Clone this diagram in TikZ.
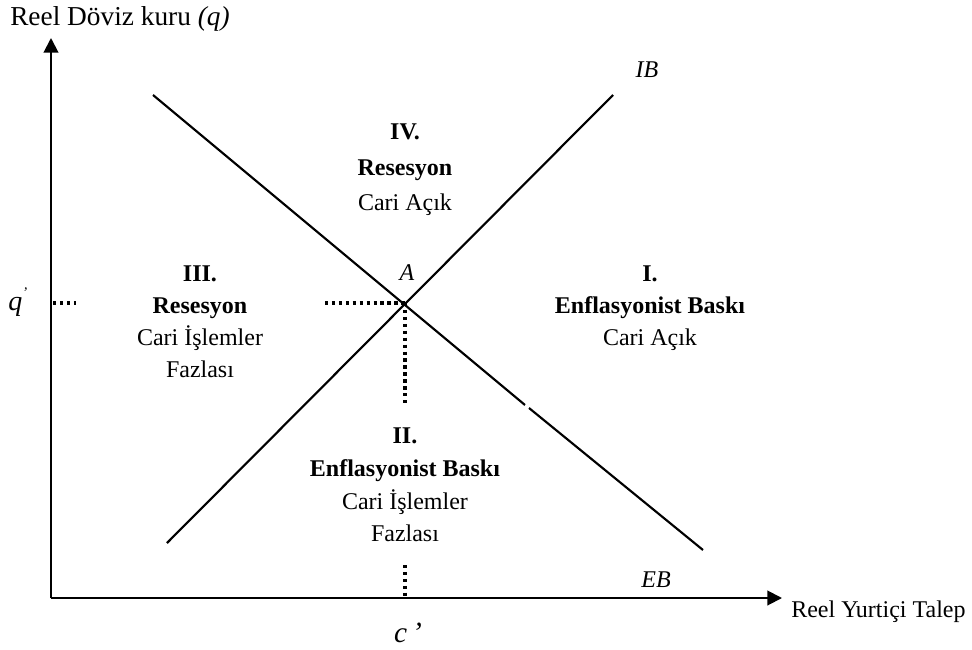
\documentclass[tikz,border=0pt]{standalone}
\usepackage{fontspec}
\setmainfont{Liberation Serif}
\usetikzlibrary{arrows.meta}
\begin{document}
\begin{tikzpicture}[x=0.75pt,y=-0.75pt,
  axis/.style={line width=1.5pt,-{Triangle[length=11pt,width=11pt]}},
  curve/.style={line width=1.6pt},
  dotline/.style={line width=2.3pt,dash pattern=on 2.5pt off 2.7pt},
  lbl/.style={font=\fontsize{18}{24}\selectfont, inner sep=0pt},
  block/.style={lbl,align=center,anchor=north}]
\useasboundingbox (0,0) rectangle (972,650);
% axes
\coordinate (O) at (51,598);
\coordinate (ytop) at (51,38);
\coordinate (xend) at (782,598);
\draw[axis] (O) -- (ytop);
\draw[axis] (O) -- (xend);
% curves
\coordinate (EBs) at (153,95);
\coordinate (EBg1) at (525,405);
\coordinate (EBg2) at (529,408);
\coordinate (EBe) at (703,550);
\coordinate (IBs) at (167,543);
\coordinate (IBe) at (613,95);
\draw[curve] (EBs) -- (EBg1);
\draw[curve] (EBg2) -- (EBe);
\draw[curve] (IBs) -- (IBe);
% dotted guides
\coordinate (A0) at (405,303);
\coordinate (hl) at (325,303);
\coordinate (ql1) at (53,303);
\coordinate (ql2) at (76,303);
\coordinate (vb) at (405,405);
\coordinate (cv1) at (405,565);
\coordinate (cv2) at (405,597);
\draw[dotline] (hl) -- (A0);
\draw[dotline] (ql1) -- (ql2);
\draw[dotline] (A0) -- (vb);
\draw[dotline] (cv1) -- (cv2);
% axis labels
\node[lbl,font=\fontsize{20.5}{24}\selectfont,anchor=base west] (ylab) at (10,25) {Reel Döviz kuru \textit{(q)}};
\node[lbl,anchor=base west] (xlab) at (791,617) {Reel Yurtiçi Talep};
\node[lbl,font=\fontsize{21}{24}\selectfont,anchor=base west] (qlab) at (8,310) {\textit{q}\raisebox{1.0ex}{\fontsize{11}{12}\selectfont\textit{'}}};
\node[lbl,font=\fontsize{22}{24}\selectfont,anchor=base] (clab) at (408,642) {\textit{c\,’}};
\node[lbl,anchor=base] (Alab) at (407,280) {\textit{A}};
\node[lbl,anchor=base] (IBlab) at (647,77) {\textit{IB}};
\node[lbl,anchor=base] (EBlab) at (656,587) {\textit{EB}};
% region blocks
\node[block,font=\fontsize{18}{26.5}\selectfont] (IV) at (405,124) {\textbf{IV.}\\\textbf{Resesyon}\\Cari Açık};
\node[block] (III) at (200,266) {\textbf{III.}\\\textbf{Resesyon}\\Cari İşlemler\\Fazlası};
\node[block] (I) at (650,266) {\textbf{I.}\\\textbf{Enflasyonist Baskı}\\Cari Açık};
\node[block,font=\fontsize{18}{24.5}\selectfont] (II) at (405,428) {\textbf{II.}\\\textbf{Enflasyonist Baskı}\\Cari İşlemler\\Fazlası};
\end{tikzpicture}
\end{document}
